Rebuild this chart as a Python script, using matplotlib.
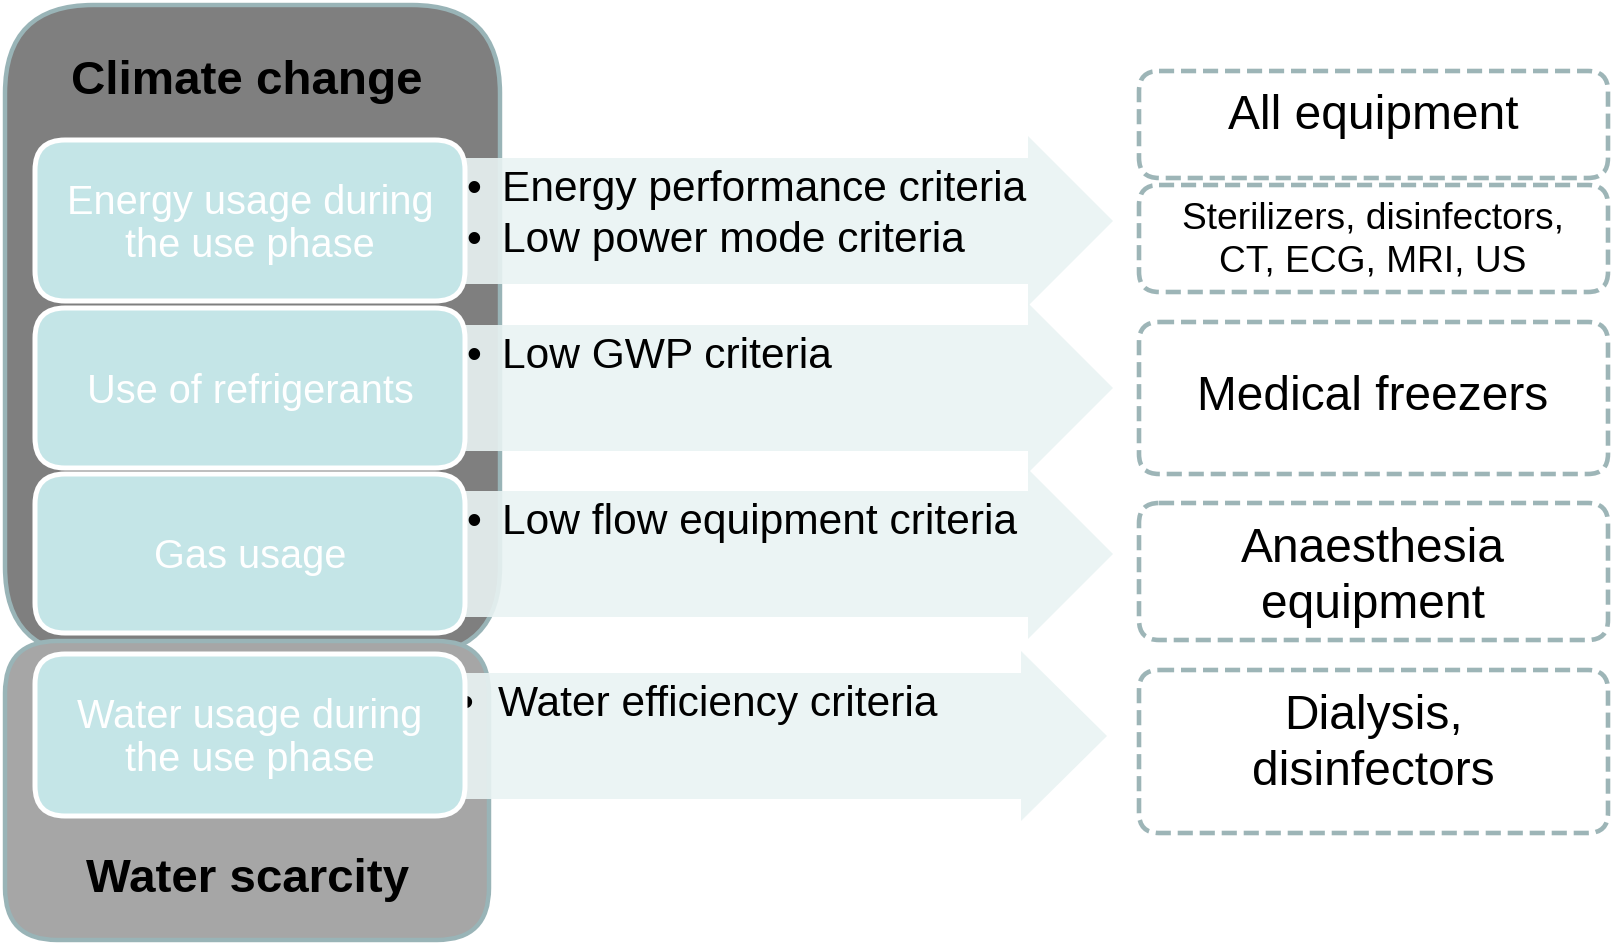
import matplotlib
matplotlib.use('Agg')
import matplotlib.pyplot as plt
from matplotlib.patches import FancyBboxPatch, Polygon

plt.rcParams['font.family'] = ['Liberation Sans', 'DejaVu Sans']

# diagram content
impacts = ['Climate change', 'Water scarcity']
aspects = ['Energy usage during\nthe use phase', 'Use of refrigerants', 'Gas usage',
           'Water usage during\nthe use phase']
criteria = [['Energy performance criteria', 'Low power mode criteria'],
            ['Low GWP criteria'],
            ['Low flow equipment criteria'],
            ['Water efficiency criteria']]
products = ['All equipment', 'Sterilizers, disinfectors,\nCT, ECG, MRI, US', 'Medical freezers',
            'Anaesthesia\nequipment', 'Dialysis,\ndisinfectors']

# layout (pixel units, y downwards)
W, H = 1612, 944
inner_y = [(140, 301), (308, 468), (474, 633), (654, 816)]
arrow_cy = [221, 388, 554, 736]
arrow_base = [1028, 1028, 1028, 1021]
arrow_tip = [1113, 1113, 1113, 1107]
bullet_x = [474, 474, 474, 466]
text_x = [502, 502, 502, 498]
prod_box = [(71, 178), (185, 292), (322, 474), (503, 640), (670, 833)]
prod_text_cy = [112, 236.5, 393, 572.5, 739.5]

border = '#99b4b7'
fig = plt.figure(figsize=(W / 100, H / 100), dpi=100)
ax = fig.add_axes([0, 0, 1, 1])
ax.set_xlim(0, W)
ax.set_ylim(H, 0)
ax.axis('off')


def rbox(x0, y0, x1, y1, r, **kw):
    p = FancyBboxPatch((x0, y0), x1 - x0, y1 - y0,
                       boxstyle='round,pad=0,rounding_size=%g' % r, **kw)
    ax.add_patch(p)
    return p


def put_lines(x, cy, text, size, spacing, **kw):
    lines = text.split('\n')
    n = len(lines)
    cap = 0.716 * size / 0.72
    for i, line in enumerate(lines):
        yc = cy + (i - (n - 1) / 2) * spacing
        ax.text(x, yc + cap / 2, line, fontsize=size, va='baseline', **kw)


# big impact boxes
rbox(5, 5, 500, 655, 88, facecolor='#7f7f7f', edgecolor=border, lw=3.2, zorder=1)
rbox(5, 641, 489, 940, 52, facecolor='#a6a6a6', edgecolor=border, lw=3.2, zorder=1.5)
put_lines(247, 77, impacts[0], 34.2, 50, ha='center', weight='bold', color='black', zorder=6)
put_lines(247, 875, impacts[1], 34.2, 50, ha='center', weight='bold', color='black', zorder=6)

# arrows with criteria
body_h, head_h = 63, 85
for i in range(4):
    cy, xb, xt = arrow_cy[i], arrow_base[i], arrow_tip[i]
    pts = [(440, cy - body_h), (xb, cy - body_h), (xb, cy - head_h), (xt, cy),
           (xb, cy + head_h), (xb, cy + body_h), (440, cy + body_h)]
    ax.add_patch(Polygon(pts, closed=True, facecolor='#e9f3f3', edgecolor='none',
                         alpha=0.9, zorder=2))
    for j, crit in enumerate(criteria[i]):
        yc = cy - body_h + 28 + j * 51
        base = yc + 0.716 * 30.6 / 0.72 / 2
        ax.text(bullet_x[i], base, '\u2022', fontsize=30.6, ha='center', va='baseline', zorder=3)
        ax.text(text_x[i], base, crit, fontsize=30.6, ha='left', va='baseline', zorder=3)

# aspect boxes
for (y0, y1), label in zip(inner_y, aspects):
    rbox(35, y0, 465, y1, 30, facecolor='#c4e5e7', edgecolor='white', lw=3.6, zorder=4)
    put_lines(250, (y0 + y1) / 2 + 0.5, label, 28.6, 43, ha='center', color='white', zorder=5)

# product boxes
for k, ((y0, y1), label) in enumerate(zip(prod_box, products)):
    rbox(1139, y0, 1608, y1, 20, facecolor='none', edgecolor='#9db5b7', lw=3.3,
         linestyle=(0, (3.3, 1.5)), zorder=2)
    if k == 1:
        put_lines(1373, prod_text_cy[k], label, 26.7, 43, ha='center', color='black', zorder=3)
    else:
        put_lines(1373, prod_text_cy[k], label, 34.5, 56, ha='center', color='black', zorder=3)

fig.savefig('out.png', dpi=100, facecolor='white')
